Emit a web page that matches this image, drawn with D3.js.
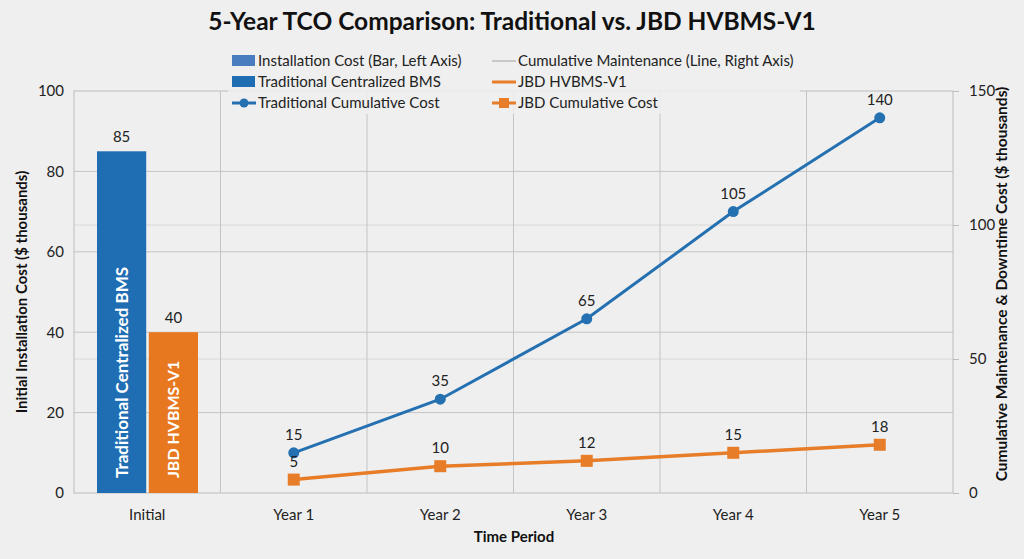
<!DOCTYPE html>
<html><head><meta charset="utf-8">
<script src="https://cdn.jsdelivr.net/npm/d3@7"></script>
<style>body{margin:0;background:#efefef;}svg{display:block;font-family:Lato,"Open Sans",sans-serif;}</style>
</head><body>
<svg id="c" width="1024" height="559"></svg>
<script>
const categories = ["Initial","Year 1","Year 2","Year 3","Year 4","Year 5"];
const barSeries = ["Traditional Centralized BMS","JBD HVBMS-V1"];
const barLabels = ["Traditional Centralized BMS","JBD HVBMS-V1"];
const installCost = [85, 40];
const years = ["Year 1","Year 2","Year 3","Year 4","Year 5"];
const tradCumulative = [15, 35, 65, 105, 140];
const jbdCumulative = [5, 10, 12, 15, 18];
const leftTicks = [0,20,40,60,80,100];
const rightTicks = [0,50,100,150];
const legendItems = [
  ["Installation Cost (Bar, Left Axis)","rectLight"],
  ["Cumulative Maintenance (Line, Right Axis)","grayLine"],
  ["Traditional Centralized BMS","rectBlue"],
  ["JBD HVBMS-V1","orangeLine"],
  ["Traditional Cumulative Cost","blueCircle"],
  ["JBD Cumulative Cost","orangeSquare"]
];
const BLUE="#1f6db3", ORANGE="#e8781f", LBLUE="#2470b0", LORANGE="#e77d28";

const svg = d3.select("#c");
const L=74, R=953, T=91, B=493;
const x = d3.scaleBand().domain(categories).range([L,R]);
const yL = d3.scaleLinear().domain([0,100]).range([B,T]);
const yR = d3.scaleLinear().domain([0,150]).range([B,T]);

svg.append("rect").attr("width",1024).attr("height",559).attr("fill","#efefef");

// gridlines
const g = svg.append("g");
g.selectAll(".hl").data(leftTicks.filter(d=>d>0&&d<100)).join("line")
  .attr("x1",L).attr("x2",R).attr("y1",d=>yL(d)).attr("y2",d=>yL(d))
  .attr("stroke","#c4c4c4").attr("stroke-width",1);
g.selectAll(".hr").data(rightTicks.filter(d=>d>0&&d<150)).join("line")
  .attr("x1",L).attr("x2",R).attr("y1",d=>yR(d)).attr("y2",d=>yR(d))
  .attr("stroke","#d8d8d8").attr("stroke-width",1);
g.selectAll(".v").data(categories.slice(1)).join("line")
  .attr("x1",d=>x(d)).attr("x2",d=>x(d)).attr("y1",T).attr("y2",B)
  .attr("stroke","#c4c4c4").attr("stroke-width",1);
// frame
g.append("rect").attr("x",L).attr("y",T).attr("width",R-L).attr("height",B-T)
  .attr("fill","none").attr("stroke","#bdbdbd").attr("stroke-width",1);

// axes
const axL = svg.append("g").attr("transform",`translate(${L},0)`)
  .call(d3.axisLeft(yL).tickValues(leftTicks).tickSize(0).tickPadding(10));
const axR = svg.append("g").attr("transform",`translate(${R},0)`)
  .call(d3.axisRight(yR).tickValues(rightTicks).tickSize(6).tickPadding(10));
const axB = svg.append("g").attr("transform",`translate(0,${B})`)
  .call(d3.axisBottom(x).tickSize(0).tickPadding(16));
[axL,axR,axB].forEach(a=>{
  a.select(".domain").remove();
  a.selectAll("text").attr("font-size",15).attr("fill","#222").attr("font-family","Lato,sans-serif");
  a.selectAll("line").attr("stroke","#bdbdbd");
});

// bars
const bx = d3.scaleBand().domain(barSeries).range([x("Initial")+23, x("Initial")+124]).paddingInner(0.05);
const bars = svg.append("g");
bars.selectAll("rect").data(installCost).join("rect")
  .attr("x",(d,i)=>bx(barSeries[i])).attr("width",bx.bandwidth())
  .attr("y",d=>yL(d)).attr("height",d=>B-yL(d))
  .attr("fill",(d,i)=>i==0?BLUE:ORANGE);
bars.selectAll(".val").data(installCost).join("text")
  .attr("x",(d,i)=>bx(barSeries[i])+bx.bandwidth()/2).attr("y",d=>yL(d)-9)
  .attr("text-anchor","middle").attr("font-size",15).attr("fill","#222").text(d=>d);
bars.selectAll(".in").data(installCost).join("text")
  .attr("transform",(d,i)=>`translate(${bx(barSeries[i])+bx.bandwidth()/2+6},${B-15}) rotate(-90)`)
  .attr("font-size",(d,i)=>i==0?17:16).attr("font-weight","bold").attr("fill","#fff").text((d,i)=>barLabels[i]);

// lines
const px = d=>x(d)+x.bandwidth()/2;
const line = d3.line().x(d=>px(d[0])).y(d=>yR(d[1]));
const trad = years.map((y,i)=>[y,tradCumulative[i]]);
const jbd = years.map((y,i)=>[y,jbdCumulative[i]]);
svg.append("path").datum(trad).attr("d",line).attr("fill","none").attr("stroke",LBLUE).attr("stroke-width",3);
svg.append("path").datum(jbd).attr("d",line).attr("fill","none").attr("stroke",LORANGE).attr("stroke-width",3.5);
svg.selectAll(".tp").data(trad).join("circle").attr("cx",d=>px(d[0])).attr("cy",d=>yR(d[1])).attr("r",5.5).attr("fill",LBLUE);
svg.selectAll(".jp").data(jbd).join("rect").attr("x",d=>px(d[0])-6).attr("y",d=>yR(d[1])-6).attr("width",12).attr("height",12).attr("fill",LORANGE);
svg.selectAll(".tl").data(trad).join("text").attr("x",d=>px(d[0])).attr("y",d=>yR(d[1])-13)
  .attr("text-anchor","middle").attr("font-size",15).attr("fill","#222").text(d=>d[1]);
svg.selectAll(".jl").data(jbd).join("text").attr("x",d=>px(d[0])).attr("y",d=>yR(d[1])-13)
  .attr("text-anchor","middle").attr("font-size",15).attr("fill","#222").text(d=>d[1]);

// title
svg.append("text").attr("x",512).attr("y",30).attr("text-anchor","middle")
  .attr("font-size",24.5).attr("font-weight","bold").attr("fill","#111")
  .text("5-Year TCO Comparison: Traditional vs. JBD HVBMS-V1");

// axis titles
svg.append("text").attr("transform",`translate(27,${(T+B)/2}) rotate(-90)`).attr("text-anchor","middle")
  .attr("font-size",15).attr("font-weight","bold").attr("fill","#111").text("Initial Installation Cost ($ thousands)");
svg.append("text").attr("transform",`translate(1007,${(T+B)/2-8}) rotate(-90)`).attr("text-anchor","middle")
  .attr("font-size",15.5).attr("font-weight","bold").attr("fill","#111").text("Cumulative Maintenance & Downtime Cost ($ thousands)");
svg.append("text").attr("x",514).attr("y",542).attr("text-anchor","middle")
  .attr("font-size",15).attr("font-weight","bold").attr("fill","#111").text("Time Period");

// legend
const lg = svg.append("g");
lg.append("rect").attr("x",228).attr("y",48).attr("width",572).attr("height",66).attr("fill","#efefef").attr("opacity",0.85);
legendItems.forEach((it,i)=>{
  const col=i%2, row=Math.floor(i/2);
  const sx = col==0?232:492, cy = 61+row*21;
  const gi = lg.append("g");
  const k = it[1];
  if(k=="rectLight") gi.append("rect").attr("x",sx).attr("y",cy-6).attr("width",23).attr("height",11).attr("fill","#4a7cc0");
  if(k=="rectBlue") gi.append("rect").attr("x",sx).attr("y",cy-6).attr("width",23).attr("height",11).attr("fill",BLUE);
  if(k=="grayLine") gi.append("line").attr("x1",sx).attr("x2",sx+24).attr("y1",cy).attr("y2",cy).attr("stroke","#c8c8c8").attr("stroke-width",2);
  if(k=="orangeLine") gi.append("line").attr("x1",sx).attr("x2",sx+24).attr("y1",cy).attr("y2",cy).attr("stroke",LORANGE).attr("stroke-width",3);
  if(k=="blueCircle"){ gi.append("line").attr("x1",sx).attr("x2",sx+24).attr("y1",cy).attr("y2",cy).attr("stroke",LBLUE).attr("stroke-width",3);
    gi.append("circle").attr("cx",sx+12).attr("cy",cy).attr("r",4.5).attr("fill",LBLUE);}
  if(k=="orangeSquare"){ gi.append("line").attr("x1",sx).attr("x2",sx+24).attr("y1",cy).attr("y2",cy).attr("stroke",LORANGE).attr("stroke-width",3);
    gi.append("rect").attr("x",sx+7).attr("y",cy-5).attr("width",10).attr("height",10).attr("fill",LORANGE);}
  gi.append("text").attr("x",sx+26).attr("y",cy+5).attr("font-size",15).attr("fill","#222").text(it[0]);
});
</script>
</body></html>
